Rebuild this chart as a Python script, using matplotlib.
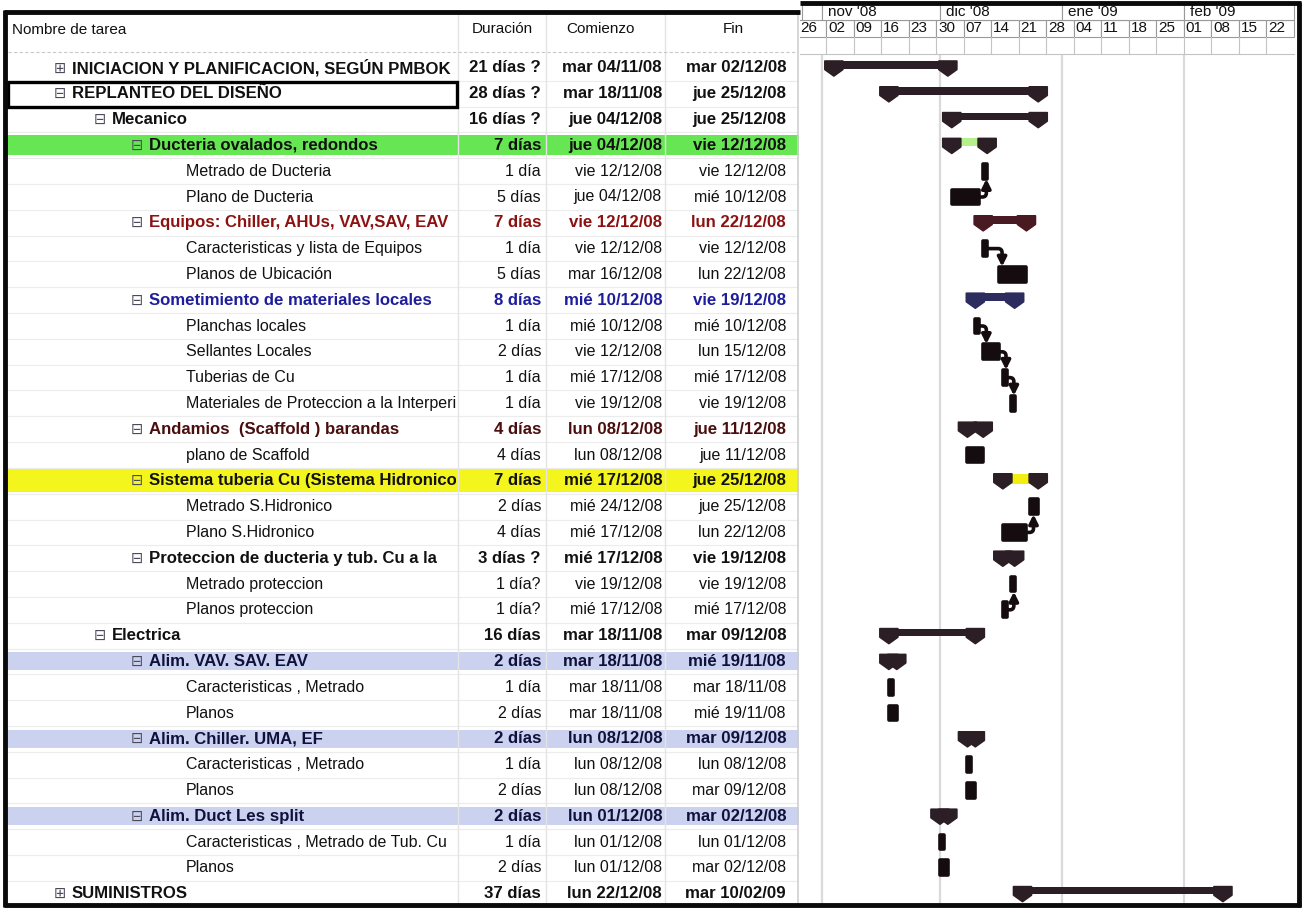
import datetime as dt
import matplotlib
matplotlib.use("Agg")
import matplotlib.pyplot as plt
import matplotlib.dates as mdates
from matplotlib.patches import Rectangle, Polygon

plt.rcParams['font.family'] = ['Liberation Sans', 'DejaVu Sans']

# ---------------- project data ----------------
task_names = [
    "INICIACION Y PLANIFICACION, SEGÚN PMBOK",
    "REPLANTEO DEL DISEÑO",
    "Mecanico",
    "Ducteria ovalados, redondos",
    "Metrado de Ducteria",
    "Plano de Ducteria",
    "Equipos: Chiller, AHUs, VAV,SAV, EAV",
    "Caracteristicas y lista de Equipos",
    "Planos de Ubicación",
    "Sometimiento de materiales locales",
    "Planchas locales",
    "Sellantes Locales",
    "Tuberias de Cu",
    "Materiales de Proteccion a la Interperie",
    "Andamios  (Scaffold ) barandas",
    "plano de Scaffold",
    "Sistema tuberia Cu (Sistema Hidronico)",
    "Metrado S.Hidronico",
    "Plano S.Hidronico",
    "Proteccion de ducteria y tub. Cu a la",
    "Metrado proteccion",
    "Planos proteccion",
    "Electrica",
    "Alim. VAV. SAV. EAV",
    "Caracteristicas , Metrado",
    "Planos",
    "Alim. Chiller. UMA, EF",
    "Caracteristicas , Metrado",
    "Planos",
    "Alim. Duct Les split",
    "Caracteristicas , Metrado de Tub. Cu",
    "Planos",
    "SUMINISTROS",
]
outline_level = [1, 1, 2, 3, 4, 4, 3, 4, 4, 3, 4, 4, 4, 4, 3, 4, 3, 4, 4, 3, 4, 4,
                 2, 3, 4, 4, 3, 4, 4, 3, 4, 4, 1]
collapsed_rows = [0, 32]
durations = [
    "21 días ?", "28 días ?", "16 días ?", "7 días", "1 día", "5 días", "7 días",
    "1 día", "5 días", "8 días", "1 día", "2 días", "1 día", "1 día", "4 días",
    "4 días", "7 días", "2 días", "4 días", "3 días ?", "1 día?", "1 día?",
    "16 días", "2 días", "1 día", "2 días", "2 días", "1 día", "2 días", "2 días",
    "1 día", "2 días", "37 días",
]
start_labels = [
    "mar 04/11/08", "mar 18/11/08", "jue 04/12/08", "jue 04/12/08", "vie 12/12/08",
    "jue 04/12/08", "vie 12/12/08", "vie 12/12/08", "mar 16/12/08", "mié 10/12/08",
    "mié 10/12/08", "vie 12/12/08", "mié 17/12/08", "vie 19/12/08", "lun 08/12/08",
    "lun 08/12/08", "mié 17/12/08", "mié 24/12/08", "mié 17/12/08", "mié 17/12/08",
    "vie 19/12/08", "mié 17/12/08", "mar 18/11/08", "mar 18/11/08", "mar 18/11/08",
    "mar 18/11/08", "lun 08/12/08", "lun 08/12/08", "lun 08/12/08", "lun 01/12/08",
    "lun 01/12/08", "lun 01/12/08", "lun 22/12/08",
]
finish_labels = [
    "mar 02/12/08", "jue 25/12/08", "jue 25/12/08", "vie 12/12/08", "vie 12/12/08",
    "mié 10/12/08", "lun 22/12/08", "vie 12/12/08", "lun 22/12/08", "vie 19/12/08",
    "mié 10/12/08", "lun 15/12/08", "mié 17/12/08", "vie 19/12/08", "jue 11/12/08",
    "jue 11/12/08", "jue 25/12/08", "jue 25/12/08", "lun 22/12/08", "vie 19/12/08",
    "vie 19/12/08", "mié 17/12/08", "mar 09/12/08", "mié 19/11/08", "mar 18/11/08",
    "mié 19/11/08", "mar 09/12/08", "lun 08/12/08", "mar 09/12/08", "mar 02/12/08",
    "lun 01/12/08", "mar 02/12/08", "mar 10/02/09",
]
# finish-to-start links (predecessor row, successor row)
links = [(5, 4), (7, 8), (10, 11), (11, 12), (12, 13), (18, 17), (21, 20)]

row_highlight = {3: '#66e652', 16: '#f5f51e', 23: '#cbd2f0', 26: '#cbd2f0', 29: '#cbd2f0'}
summary_fill = {3: '#b5f08a', 16: '#f2ee10'}
text_colors = {6: '#8c1212', 9: '#1e1e9c', 14: '#4b0e0e', 23: '#10103c', 26: '#10103c', 29: '#10103c'}
bar_colors = {6: '#4a1a22', 9: '#2c2c5e'}
column_titles = ["Nombre de tarea", "Duración", "Comienzo", "Fin"]
month_labels = ["nov '08", "dic '08", "ene '09", "feb '09"]
month_starts = ["01/11/08", "01/12/08", "01/01/09", "01/02/09"]
first_week = "26/10/08"
n_weeks = 18

# ---------------- layout ----------------
W, H = 1303, 913
ROW0, ROW_H = 68.0, 25.8
PX_DAY = 3.93
REF_X = 826.0          # pixel of 02/11/08
G_LEFT = 800
DARK = '#2b1e24'
FS_REG, FS_BOLD = 11.5, 12.1


def prow(p):
    return (p - ROW0) / ROW_H


def parse(label):
    return dt.datetime.strptime(label.split()[-1], "%d/%m/%y")


fig = plt.figure(figsize=(W / 100, H / 100), dpi=100)
fig.patch.set_facecolor('white')
ylim = (prow(H), prow(0))

ax_t = fig.add_axes([0, 0, G_LEFT / W, 1])
ax_t.set_xlim(0, G_LEFT)
ax_t.set_ylim(*ylim)
ax_t.axis('off')

ax_g = fig.add_axes([G_LEFT / W, 0, (W - G_LEFT) / W, 1])
ref_day = mdates.date2num(dt.datetime(2008, 11, 2))
ax_g.set_xlim(ref_day - (REF_X - G_LEFT) / PX_DAY, ref_day + (W - REF_X) / PX_DAY)
ax_g.set_ylim(*ylim)
ax_g.axis('off')

day_px = 1.0 / PX_DAY
n_rows = len(task_names)
rows_y = list(range(n_rows))

# ---------------- table ----------------
for i in rows_y:
    if i in row_highlight:
        h = 0.9 if i == 16 else (0.78 if i == 3 else 0.7)
        ax_t.add_patch(Rectangle((7, i - h / 2), 792, h, facecolor=row_highlight[i],
                                 edgecolor='none', zorder=0))
    ax_t.plot([8, 797], [i + 0.5, i + 0.5], color='#ececec', lw=0.8, zorder=0.5)

for x in (458, 546, 665):
    ax_t.plot([x, x], [prow(14), prow(905)], color='#e4e4e4', lw=1.0, zorder=0.5)
ax_t.plot([798, 798], [prow(14), prow(905)], color='#cfcfcf', lw=1.2, zorder=0.5)
ax_t.plot([8, 797], [prow(52), prow(52)], color='#c8c8c8', lw=0.8, ls=(0, (3, 2)))

ax_t.text(12, prow(30), column_titles[0], fontsize=11, va='center', ha='left', color='#111')
ax_t.text(502, prow(29), column_titles[1], fontsize=11, va='center', ha='center', color='#111')
ax_t.text(600, prow(29), column_titles[2], fontsize=11, va='center', ha='center', color='#111')
ax_t.text(733, prow(29), column_titles[3], fontsize=11, va='center', ha='center', color='#111')

name_clip = Rectangle((8, prow(0)), 448, prow(H) - prow(0), transform=ax_t.transData)
level_x = {1: 72, 2: 112, 3: 149, 4: 186}

for i in rows_y:
    lvl = outline_level[i]
    bold = lvl < 4
    weight = 'bold' if bold else 'normal'
    fs = FS_BOLD if bold else FS_REG
    col = text_colors.get(i, '#111111')
    x = level_x[lvl]
    if bold:
        icon = '⊞' if i in collapsed_rows else '⊟'
        ax_t.text(x - 18, i, icon, fontsize=10.5, family='DejaVu Sans', va='center',
                  ha='left', color='#4a4a5a')
    t = ax_t.text(x, i, task_names[i], fontsize=fs, fontweight=weight, va='center',
                  ha='left', color=col, clip_on=True)
    t.set_clip_path(name_clip)
    ax_t.text(541, i, durations[i], fontsize=fs, fontweight=weight, va='center',
              ha='right', color=col)
    ax_t.text(662, i, start_labels[i], fontsize=fs, fontweight=weight, va='center',
              ha='right', color=col)
    ax_t.text(786, i, finish_labels[i], fontsize=fs, fontweight=weight, va='center',
              ha='right', color=col)

ax_t.add_patch(Rectangle((8, prow(82)), 449, prow(107) - prow(82), facecolor='none',
                         edgecolor='black', lw=2.4, zorder=3))

# ---------------- timeline header ----------------
hdr_top, hdr_mid, hdr_bot, hdr_end = prow(4), prow(20), prow(37), prow(54)
week0 = mdates.date2num(parse(first_week))
g_x0 = ax_g.get_xlim()[0]
for k in range(n_weeks):
    ws = week0 + 7 * k
    ax_g.add_patch(Rectangle((ws, hdr_mid), 7, hdr_bot - hdr_mid, facecolor='white',
                             edgecolor='#9a9a9a', lw=0.8))
    ax_g.plot([ws, ws], [hdr_bot, hdr_end], color='#c4c4c4', lw=0.8)
    lbl = mdates.num2date(ws).strftime('%d')
    ax_g.text(ws + 0.5, (hdr_mid + hdr_bot) / 2, lbl, fontsize=11, va='center',
              ha='left', color='#111')
ax_g.plot([g_x0, week0 + 7 * n_weeks], [hdr_end, hdr_end], color='#c4c4c4', lw=0.8)

m_nums = [mdates.date2num(parse(m)) for m in month_starts]
edges = m_nums + [week0 + 7 * n_weeks]
ax_g.add_patch(Rectangle((g_x0 + 0.5, hdr_top), m_nums[0] - g_x0 - 0.5,
                         hdr_mid - hdr_top, facecolor='white', edgecolor='#9a9a9a', lw=0.8))
for k, lab in enumerate(month_labels):
    ax_g.add_patch(Rectangle((edges[k], hdr_top), edges[k + 1] - edges[k], hdr_mid - hdr_top,
                             facecolor='white', edgecolor='#9a9a9a', lw=0.8))
    ax_g.text(edges[k] + 1.5, (hdr_top + hdr_mid) / 2, lab, fontsize=11, va='center',
              ha='left', color='#111')

for m in m_nums:
    ax_g.plot([m, m], [prow(56), prow(903)], color='#dadada', lw=1.6, zorder=0)

# ---------------- bars ----------------
spans = []
for i in rows_y:
    s = mdates.date2num(parse(start_labels[i]))
    e = mdates.date2num(parse(finish_labels[i])) + 1
    spans.append((s, e))

cap_half = 9 * day_px
for i in rows_y:
    s, e = spans[i]
    y = rows_y[i]
    lvl = outline_level[i]
    color = bar_colors.get(i, DARK)
    if lvl < 4:
        top = y - 0.27
        fill = summary_fill.get(i, color)
        thick = 0.38 if i == 16 else 0.3
        ax_g.add_patch(Rectangle((s, top), e - s, thick, facecolor=fill,
                                 edgecolor='none', zorder=2))
        for xc in (s, e):
            ax_g.add_patch(Polygon([(xc - cap_half, top), (xc + cap_half, top),
                                    (xc + cap_half, y + 0.06), (xc, y + 0.31),
                                    (xc - cap_half, y + 0.06)], closed=True,
                                   facecolor=color, edgecolor=color, lw=1.2,
                                   joinstyle='round', zorder=3))
    else:
        ax_g.add_patch(Rectangle((s, y - 0.29), e - s, 0.58, facecolor='#150c10',
                                 edgecolor='#150c10', lw=2.6, joinstyle='round', zorder=3))

for a, b in links:
    sa, ea = spans[a]
    sb, eb = spans[b]
    ya, yb = rows_y[a], rows_y[b]
    xt = sb + 0.8
    ytip = yb + 0.3 if yb < ya else yb - 0.3
    ax_g.annotate('', xy=(xt, ytip), xytext=(ea + 0.2, ya), xycoords='data',
                  textcoords='data', zorder=4,
                  arrowprops=dict(arrowstyle='-|>', color='#150c10', lw=2.6,
                                  shrinkA=0, shrinkB=0, mutation_scale=13,
                                  connectionstyle='angle,angleA=0,angleB=90,rad=4'))

# ---------------- frame ----------------
ax_f = fig.add_axes([0, 0, 1, 1], zorder=10)
ax_f.set_xlim(0, W)
ax_f.set_ylim(H, 0)
ax_f.axis('off')
ax_f.patch.set_alpha(0)
frame_kw = dict(color='#0a0a0a', lw=3.5, solid_capstyle='butt')
ax_f.plot([5, 5], [10, 907], **frame_kw)
ax_f.plot([4, 800], [12, 12], **frame_kw)
ax_f.plot([800, 1301], [3, 3], **frame_kw)
ax_f.plot([1299, 1299], [2, 907], **frame_kw)
ax_f.plot([4, 1301], [905, 905], **frame_kw)

fig.savefig('out.png', dpi=100, facecolor='white')
